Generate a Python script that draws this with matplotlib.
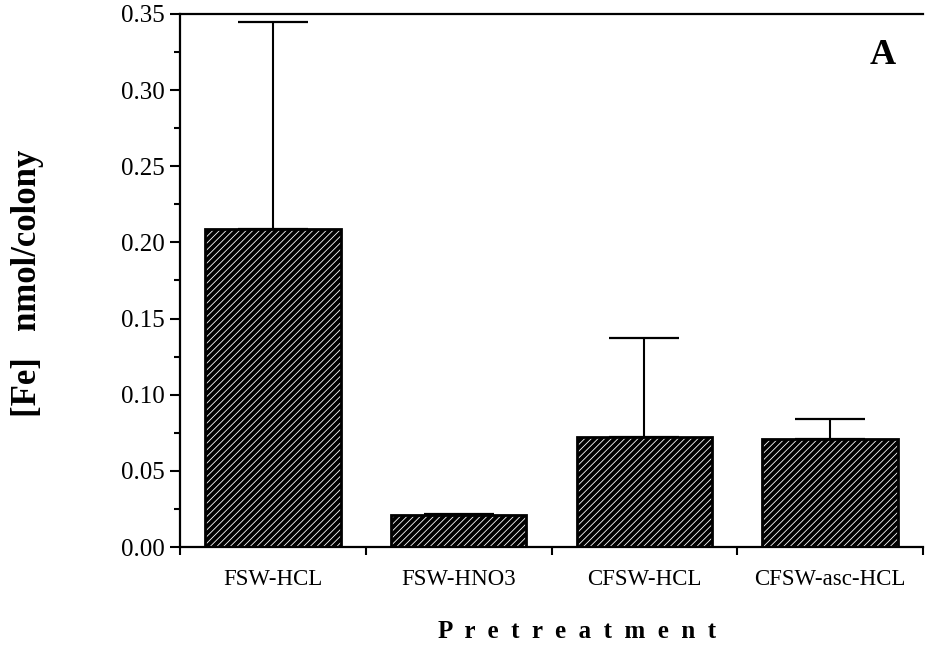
import matplotlib
matplotlib.use("Agg")
import matplotlib.pyplot as plt
import numpy as np
from matplotlib.ticker import MultipleLocator

# values
labels = ["FSW-HCL", "FSW-HNO3", "CFSW-HCL", "CFSW-asc-HCL"]
means = [0.209, 0.021, 0.072, 0.071]
errs = [0.136, 0.001, 0.065, 0.013]

plt.rcParams['font.family'] = ['Liberation Serif', 'DejaVu Serif']
plt.rcParams['hatch.linewidth'] = 2.8

fig = plt.figure(figsize=(9.26, 6.65), dpi=100)
ax = fig.add_axes([0.1944, 0.1774, 0.8024, 0.8016])

x = np.arange(len(labels)) + 0.5
ax.bar(x, means, width=0.73, color='white', edgecolor='black',
       linewidth=2, hatch='/////', zorder=2)
ax.errorbar(x, means, yerr=[np.zeros(len(errs)), errs], fmt='none',
            ecolor='black', elinewidth=1.5, capsize=25, capthick=1.6, zorder=1)

ax.set_xlim(0, 4)
ax.set_ylim(0, 0.35)
ax.set_xticks(np.arange(0, 5))
ax.set_xticklabels([])
ax.set_xticks(x, minor=True)
ax.set_xticklabels(labels, minor=True, fontsize=16.5)
ax.tick_params(axis='x', which='minor', length=0, pad=16)
ax.tick_params(axis='x', which='major', direction='out', length=6, width=1.5)

ax.yaxis.set_major_locator(MultipleLocator(0.05))
ax.yaxis.set_minor_locator(MultipleLocator(0.025))
ax.set_yticklabels(["%.2f" % v for v in ax.get_yticks()])
ax.tick_params(axis='y', which='major', direction='out', length=7, width=1.5,
               labelsize=18, pad=4)
ax.tick_params(axis='y', which='minor', direction='out', length=4, width=1.5)

ax.spines['right'].set_visible(False)
for s in ['left', 'bottom', 'top']:
    ax.spines[s].set_linewidth(1.6)

fig.text(28 / 926, 1 - 283 / 665, "[Fe]   nmol/colony", rotation=90,
         ha='center', va='center', fontsize=25, fontweight='bold')
fig.text(577 / 926, 1 - 631 / 665, "P  r  e  t  r  e  a  t  m  e  n  t",
         ha='center', va='center', fontsize=18, fontweight='bold')
ax.text(883 / 926, 1 - 55 / 665, "A", transform=fig.transFigure,
        ha='center', va='center', fontsize=26, fontweight='bold')

fig.savefig("out.png", dpi=100)
